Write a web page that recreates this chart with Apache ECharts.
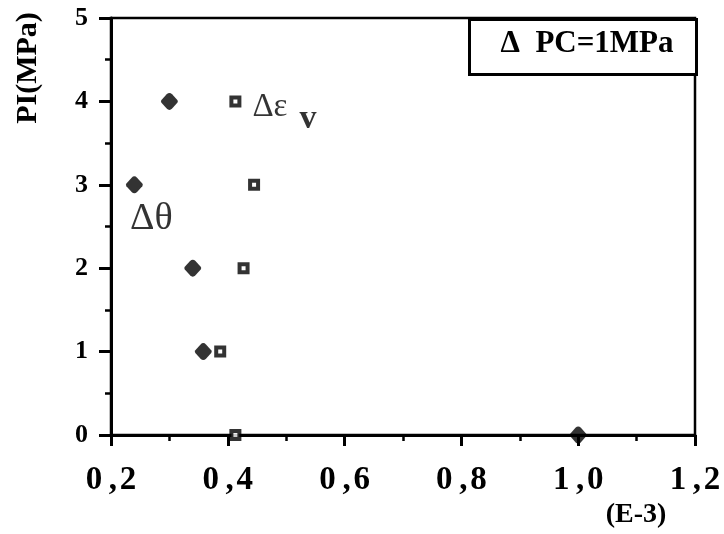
<!DOCTYPE html>
<html><head><meta charset="utf-8">
<script src="https://cdn.jsdelivr.net/npm/echarts@6/dist/echarts.min.js"></script>
<style>html,body{margin:0;padding:0;background:#fff}#c{width:724px;height:534px}</style>
</head><body><div id="c"></div>
<script>
const piLevels = [4, 3, 2, 1, 0];
const thetaX = [0.300, 0.240, 0.340, 0.358, 1.000];
const epsVX = [0.413, 0.445, 0.427, 0.387, 0.413];
const xTicks = [0.2, 0.4, 0.6, 0.8, 1.0, 1.2];
const yTicks = [0, 1, 2, 3, 4, 5];
const FONT = 'Liberation Serif';
const DIAMOND = 'path://M0,-10 Q1.6,-10 3,-8.4 L8.8,-1.6 Q10,0 8.8,1.6 L3,8.4 Q1.6,10 0,10 Q-1.6,10 -3,8.4 L-8.8,1.6 Q-10,0 -8.8,-1.6 L-3,-8.4 Q-1.6,-10 0,-10 Z';

const chart = echarts.init(document.getElementById('c'));
const thetaData = thetaX.map((x, i) => {
  const d = { value: [x, piLevels[i]] };
  if (i === 1) d.label = { show: true, position: 'bottom', distance: 7, formatter: 'Δθ', fontSize: 38, fontFamily: FONT, color: '#000', offset: [17, 0] };
  return d;
});
const epsData = epsVX.map((x, i) => {
  const d = { value: [x, piLevels[i]] };
  if (i === 0) d.label = { show: true, position: 'right', distance: 11, formatter: '{a|Δε}{s|v}', color: '#000', offset: [0, 6],
    rich: { a: { fontSize: 33, fontFamily: FONT, color: '#000' },
            s: { fontSize: 34, fontWeight: 'bold', fontFamily: FONT, color: '#000', padding: [24, 0, 0, 12] } } };
  return d;
});
chart.setOption({
  animation: false,
  backgroundColor: '#fff',
  grid: { left: 111, right: 29, top: 18, bottom: 99, show: true, borderColor: '#000', borderWidth: 2.5, backgroundColor: 'transparent' },
  xAxis: {
    type: 'value', min: 0.2, max: 1.2, interval: 0.2,
    axisLine: { show: true, onZero: false, lineStyle: { color: '#000', width: 3 } },
    axisTick: { show: true, inside: false, length: 11, lineStyle: { color: '#000', width: 3 } },
    minorTick: { show: true, splitNumber: 2, length: 6, lineStyle: { color: '#000', width: 2.5 } },
    splitLine: { show: false },
    axisLabel: { margin: 29, fontSize: 33, fontWeight: 'bold', fontFamily: FONT, color: '#000',
      formatter: v => xTicks.some(t => Math.abs(t - v) < 1e-6) ? v.toFixed(1).replace('.', '\u2009,\u200A') : '' }
  },
  yAxis: {
    type: 'value', min: 0, max: 5, interval: 1,
    axisLine: { show: true, onZero: false, lineStyle: { color: '#000', width: 3 } },
    axisTick: { show: true, inside: false, length: 12, lineStyle: { color: '#000', width: 3 } },
    minorTick: { show: true, splitNumber: 2, length: 6, lineStyle: { color: '#000', width: 2.5 } },
    splitLine: { show: false },
    axisLabel: { margin: 23, fontSize: 26, fontWeight: 'bold', fontFamily: FONT, color: '#000', padding: [12, 0, 0, 0],
      formatter: v => yTicks.includes(v) ? String(v) : '' }
  },
  series: [
    { type: 'scatter', name: 'Δθ', data: thetaData, symbol: DIAMOND, symbolSize: [17, 17],
      itemStyle: { color: '#000' }, z: 3 },
    { type: 'scatter', name: 'Δεv', data: epsData, symbol: 'rect', symbolSize: 8,
      itemStyle: { color: '#fff', borderColor: '#000', borderWidth: 4 }, z: 4 }
  ],
  graphic: [
    { type: 'rect', left: 468, top: 18, shape: { width: 227, height: 55 },
      style: { fill: '#fff', stroke: '#000', lineWidth: 3 }, z: 10 },
    { type: 'text', x: 587, y: 44, z: 11,
      style: { text: 'Δ  PC=1MPa', fontSize: 31, fontWeight: 'bold', fontFamily: FONT, fill: '#000', align: 'center', verticalAlign: 'middle' } },
    { type: 'text', x: 636, y: 515,
      style: { text: '(E-3)', fontSize: 28, fontWeight: 'bold', fontFamily: FONT, fill: '#000', align: 'center', verticalAlign: 'middle' } },
    { type: 'text', x: 28, y: 68, rotation: Math.PI / 2,
      style: { text: 'PI(MPa)', fontSize: 30, fontWeight: 'bold', fontFamily: FONT, fill: '#000', align: 'center', verticalAlign: 'middle' } }
  ]
});
</script></body></html>
